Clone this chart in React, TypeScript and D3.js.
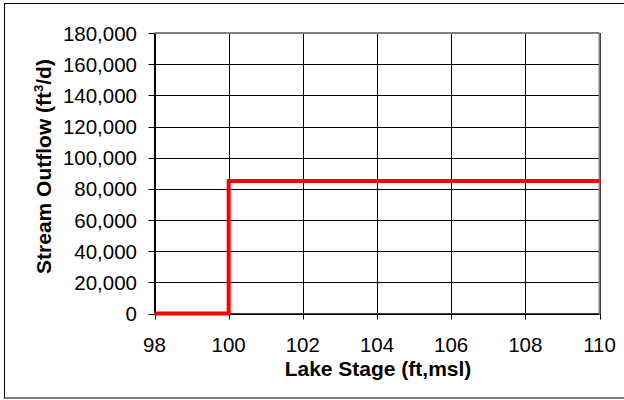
import React from "react";
import * as d3 from "d3";

const stageX: number[] = [98, 100, 100, 110];
const outflowY: number[] = [0, 0, 85000, 85000];
const xTicks: number[] = [98, 100, 102, 104, 106, 108, 110];
const yTicks: number[] = [0, 20000, 40000, 60000, 80000, 100000, 120000, 140000, 160000, 180000];

const W = 624, H = 400;
const L = 154.5, R = 599.5, T = 33, B = 313.5;

export default function App() {
  const x = d3.scaleLinear().domain([98, 110]).range([L, R]);
  const y = d3.scaleLinear().domain([0, 180000]).range([B, T]);
  const fmt = d3.format(",");
  const line = d3.line<number>().x((_, i) => x(stageX[i])).y((d) => y(d));
  const font = "'Liberation Sans', Arial, sans-serif";
  return (
    <svg width={W} height={H} style={{ position: "absolute", left: 0, top: 0 }} fontFamily={font}>
      <rect x={0} y={0} width={W} height={H} fill="#fff" />
      <rect x={4.5} y={3.5} width={630} height={394.5} fill="none" stroke="#000" strokeWidth={1} />
      {yTicks.map((t) => (
        <line key={"gy" + t} x1={L} x2={R} y1={Math.round(y(t)) + 0.5} y2={Math.round(y(t)) + 0.5} stroke="#000" strokeWidth={1} />
      ))}
      {xTicks.map((t) => (
        <line key={"gx" + t} x1={Math.round(x(t)) + 0.5} x2={Math.round(x(t)) + 0.5} y1={T} y2={B} stroke="#000" strokeWidth={1} />
      ))}
      <line x1={L} x2={R} y1={T} y2={T} stroke="#808080" strokeWidth={2} />
      <line x1={R} x2={R} y1={T} y2={B} stroke="#808080" strokeWidth={2} />
      <line x1={L} x2={L} y1={T} y2={B} stroke="#000" strokeWidth={1} />
      <line x1={L} x2={R} y1={B} y2={B} stroke="#404040" strokeWidth={1} />
      {yTicks.map((t) => (
        <g key={"ty" + t}>
          <line x1={L - 6} x2={L} y1={Math.round(y(t)) + 0.5} y2={Math.round(y(t)) + 0.5} stroke="#000" />
          <text x={137} y={y(t) + 7.5} textAnchor="end" fontSize={20.5} fill="#000">{fmt(t)}</text>
        </g>
      ))}
      {xTicks.map((t) => (
        <g key={"tx" + t}>
          <line x1={Math.round(x(t)) + 0.5} x2={Math.round(x(t)) + 0.5} y1={B} y2={B + 6} stroke="#000" />
          <text x={x(t)} y={352} textAnchor="middle" fontSize={20.5} fill="#000">{t}</text>
        </g>
      ))}
      <path d={line(outflowY) || ""} fill="none" stroke="#ff0000" strokeWidth={4} />
      <text x={378} y={376} textAnchor="middle" fontSize={21} fontWeight="bold" fill="#000">Lake Stage (ft,msl)</text>
      <text transform={`translate(50.5, 166.5) rotate(-90)`} textAnchor="middle" fontSize={21} fontWeight="bold" fill="#000">
        Stream Outflow (ft<tspan fontSize={13} dy={-8}>3</tspan><tspan dy={8}>/d)</tspan>
      </text>
    </svg>
  );
}
